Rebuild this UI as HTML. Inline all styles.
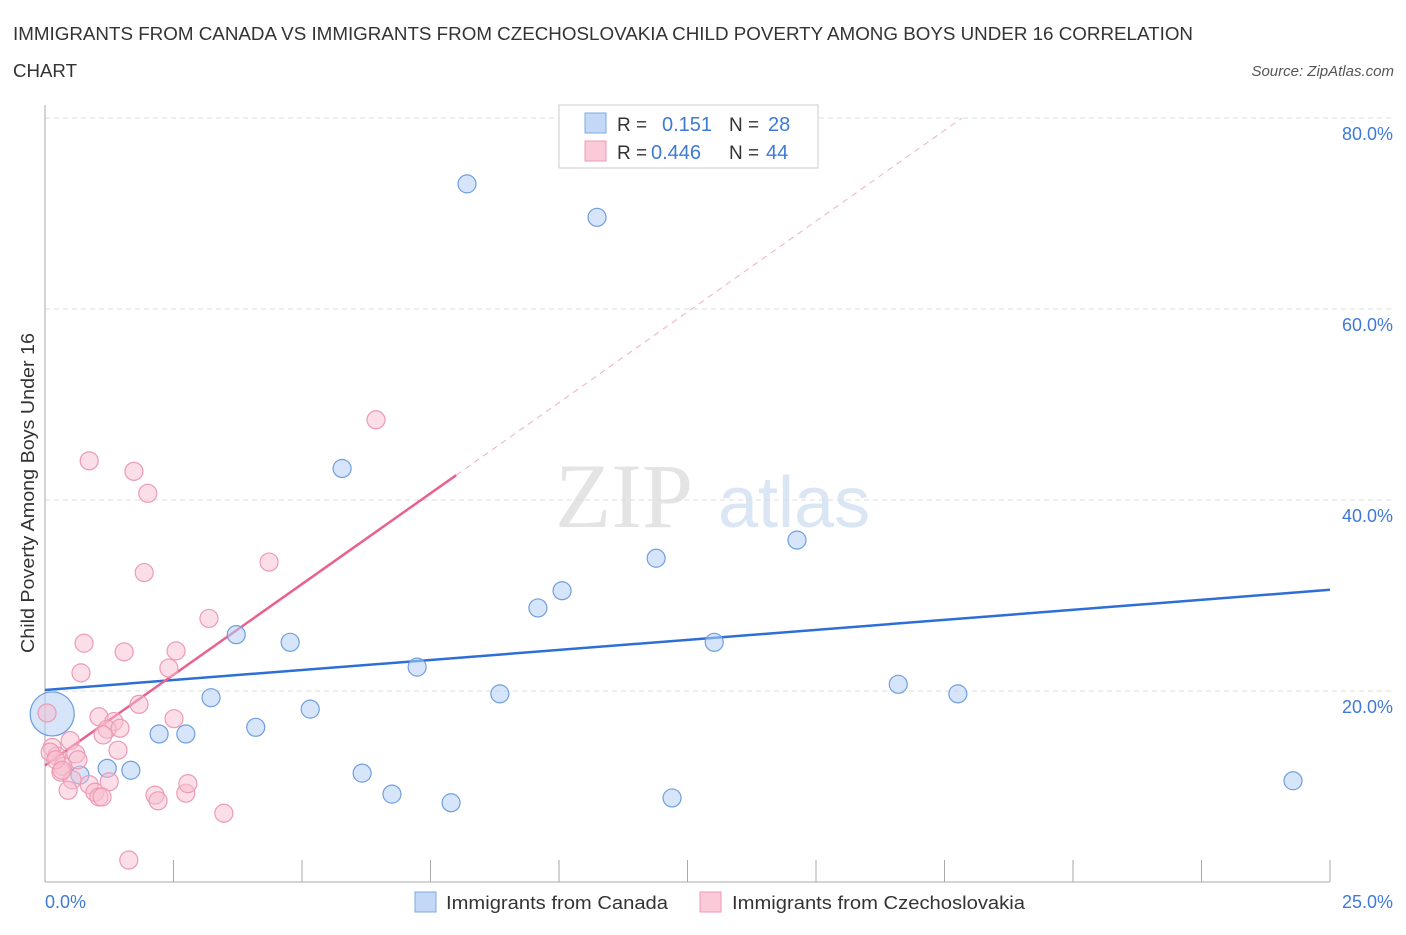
<!DOCTYPE html>
<html><head><meta charset="utf-8"><style>
body{margin:0;background:#fff;font-family:"Liberation Sans",sans-serif;}
</style></head><body>
<svg id="chart" width="1406" height="930" viewBox="0 0 1406 930" xmlns="http://www.w3.org/2000/svg" font-family="Liberation Sans, sans-serif">
<text x="13" y="40" font-size="18" fill="#333" textLength="1180" lengthAdjust="spacingAndGlyphs">IMMIGRANTS FROM CANADA VS IMMIGRANTS FROM CZECHOSLOVAKIA CHILD POVERTY AMONG BOYS UNDER 16 CORRELATION</text>
<text x="13" y="77" font-size="18" fill="#333" textLength="64" lengthAdjust="spacingAndGlyphs">CHART</text>
<text x="1394" y="76" font-size="15" fill="#555" font-style="italic" text-anchor="end">Source: ZipAtlas.com</text>
<text x="555" y="527" font-size="92" fill="#e4e4e4" font-family="Liberation Serif, serif">ZIP</text>
<text x="718" y="527" font-size="72" fill="#dbe6f5">atlas</text>
<g id="grid"></g><g id="axes"></g><g id="trend"></g><g id="pts"></g>
<text transform="translate(34,493) rotate(-90)" font-size="18" fill="#333" text-anchor="middle" textLength="320" lengthAdjust="spacingAndGlyphs">Child Poverty Among Boys Under 16</text>
<text x="45" y="908" font-size="18" fill="#3f7ad6">0.0%</text>
<text x="1393" y="908" font-size="18" fill="#3f7ad6" text-anchor="end">25.0%</text>
<g>
<rect x="559" y="105" width="259" height="63" fill="#fff" stroke="#ccc"/>
<rect x="585" y="113" width="21" height="20" fill="#c3d8f6" stroke="#7fa8e0"/>
<rect x="585" y="141" width="21" height="20" fill="#fbcad8" stroke="#ee9ab4"/>
<text x="617" y="131" font-size="19" fill="#333">R =</text><text x="662" y="131" font-size="20" fill="#3f7ad6">0.151</text>
<text x="729" y="131" font-size="19" fill="#333">N =</text><text x="768" y="131" font-size="20" fill="#3f7ad6">28</text>
<text x="617" y="159" font-size="19" fill="#333">R =</text><text x="651" y="159" font-size="20" fill="#3f7ad6">0.446</text>
<text x="729" y="159" font-size="19" fill="#333">N =</text><text x="766" y="159" font-size="20" fill="#3f7ad6">44</text>
</g>
<g>
<rect x="415" y="892" width="21" height="20" fill="#c3d8f6" stroke="#7fa8e0"/>
<text x="446" y="909" font-size="18" fill="#333" textLength="222" lengthAdjust="spacingAndGlyphs">Immigrants from Canada</text>
<rect x="700" y="892" width="21" height="20" fill="#fbcad8" stroke="#ee9ab4"/>
<text x="732" y="909" font-size="18" fill="#333" textLength="293" lengthAdjust="spacingAndGlyphs">Immigrants from Czechoslovakia</text>
</g>
</svg>
<script>
const yTicks=[20,40,60,80];
const yTickLabels=["20.0%","40.0%","60.0%","80.0%"];
const xTicks=[0,2.5,5,7.5,10,12.5,15,17.5,20,22.5,25];
const canadaX=[0.14,0.68,1.21,1.67,2.22,2.74,3.23,3.72,4.10,4.77,5.16,5.78,6.17,6.75,7.24,7.90,8.21,8.85,9.59,10.06,10.74,11.89,12.20,13.02,14.63,16.60,17.76,24.28];
const canadaY=[17.6,11.2,11.9,11.7,15.5,15.5,19.3,25.9,16.2,25.1,18.1,43.3,11.4,9.2,22.5,8.3,73.1,19.7,28.7,30.5,69.6,33.9,8.8,25.1,35.8,20.7,19.7,10.6];
const czechX=[0.04,0.86,1.73,2.00,1.93,4.36,6.44,3.19,0.76,1.54,2.55,0.70,2.41,1.83,1.05,2.51,1.34,1.21,1.46,1.13,0.49,0.14,1.42,0.23,0.60,0.64,0.35,0.31,0.53,0.86,0.97,1.05,1.25,0.45,1.11,2.14,2.20,2.74,2.78,3.48,1.63,0.10,0.21,0.33];
const czechY=[17.7,44.1,43.0,40.7,32.4,33.5,48.4,27.6,25.0,24.1,24.2,21.9,22.4,18.6,17.3,17.1,16.8,16.0,16.1,15.4,14.8,14.1,13.8,13.2,13.4,12.8,12.1,11.5,10.7,10.2,9.4,8.9,10.5,9.6,8.9,9.1,8.5,9.3,10.3,7.2,2.3,13.6,12.8,11.7];
const canadaTrend=[20.1,30.6];
const czechTrend=[12.2,3.8];
const NS="http://www.w3.org/2000/svg";
const X=v=>45+v/25*1285, Y=v=>882-v*9.55;
function mk(t,a,p){const e=document.createElementNS(NS,t);for(const k in a)e.setAttribute(k,a[k]);p.appendChild(e);return e;}
const g=document.getElementById('grid'),ax=document.getElementById('axes'),tr=document.getElementById('trend'),pts=document.getElementById('pts');
yTicks.forEach((v,i)=>{
 const l=mk('line',{x1:45,x2:1395,y1:Y(v),y2:Y(v),stroke:'#ddd','stroke-dasharray':'5,4'},g);
 
 
 const t=mk('text',{x:1393,y:Y(v)+22,'font-size':18,fill:'#3f7ad6','text-anchor':'end'},g);
 t.textContent=yTickLabels[i];
 
 
});
mk('line',{x1:45,x2:45,y1:105,y2:882,stroke:'#aaa'},ax);
mk('line',{x1:45,x2:1330,y1:882,y2:882,stroke:'#aaa'},ax);
xTicks.forEach(v=>{const l=mk('line',{x1:X(v),x2:X(v),y1:860,y2:882,stroke:'#aaa'},ax);
 
 });
let e=mk('line',{x1:X(0),y1:Y(canadaTrend[0]),x2:X(25),y2:Y(canadaTrend[1]),stroke:'#2d6fd6','stroke-width':2.5},tr);


const xEnd=8.0,xDash=(80-czechTrend[0])/czechTrend[1];
e=mk('line',{x1:X(0),y1:Y(czechTrend[0]),x2:X(xEnd),y2:Y(czechTrend[0]+czechTrend[1]*xEnd),stroke:'#e8618f','stroke-width':2.5},tr);


e=mk('line',{x1:X(xEnd),y1:Y(czechTrend[0]+czechTrend[1]*xEnd),x2:X(xDash),y2:Y(80),stroke:'#eeb0c4','stroke-width':1,'stroke-dasharray':'6,5'},tr);


canadaX.forEach((v,i)=>{const c=mk('circle',{cx:X(v),cy:Y(canadaY[i]),r:i==0?22:9,fill:'rgba(180,208,245,0.55)',stroke:'#6f9fdf','stroke-width':1.2},pts);
 
 });
czechX.forEach((v,i)=>{const c=mk('circle',{cx:X(v),cy:Y(czechY[i]),r:9,fill:'rgba(248,190,208,0.5)',stroke:'#ee9ab4','stroke-width':1.2},pts);
 
 });
</script>
</body></html>
